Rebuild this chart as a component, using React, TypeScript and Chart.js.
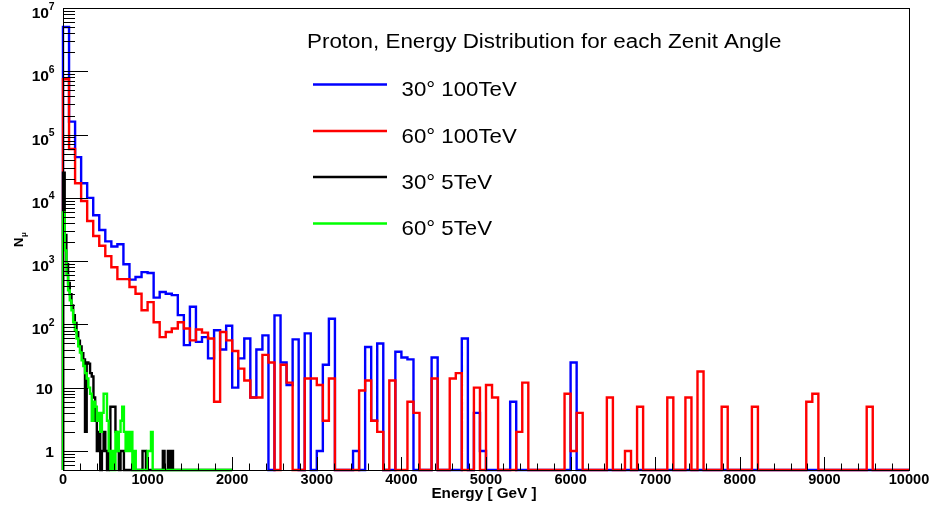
import { useEffect, useRef } from 'react';
import { Chart, registerables } from 'chart.js';

Chart.register(...registerables);

// ---------------- data ----------------
const HI_MAX = 10000; // 100 TeV histograms: 140 bins over 0..10000 GeV
const LO_MAX = 2000; // 5 TeV histograms: 100 bins over 0..2000 GeV
const Y_MIN = 0.5;
const Y_MAX = 1e7;

const seriesLabels = ['30\u00b0 100TeV', '60\u00b0 100TeV', '30\u00b0 5TeV', '60\u00b0 5TeV'];
const seriesColors = ['#0000ff', '#ff0000', '#000000', '#00ff00'];
const legendTitle = 'Proton, Energy Distribution for each Zenit Angle';
const xTitle = 'Energy [ GeV ]';

const blue100TeV = [
  5.0e6, 1.6e5, 4.4e4, 1.7e4, 1.0e4, 5.3e3, 3.1e3, 2.05e3, 1.7e3, 1.85e3,
  890, 510, 560, 670, 650, 265, 325, 305, 290, 140,
  47, 190, 53, 63, 29, 81, 40, 95, 10, 29,
  60, 7, 40, 67, 0, 139, 25, 11, 58, 0,
  72, 0, 1, 23, 123, 0, 0, 0, 1, 0,
  44, 3, 50, 0, 0, 37, 30, 28, 0, 0,
  0, 30, 0, 0, 0, 0, 60, 0, 4, 1,
  0, 0, 0, 0, 6, 0, 0, 0, 0, 0,
  0, 0, 0, 0, 25, 0, 0, 0, 0, 0,
  0, 0, 0, 0, 0, 0, 0, 0, 0, 0,
  0, 0, 0, 0, 0, 0, 0, 0, 0, 0,
  0, 0, 0, 0, 0, 0, 0, 0, 0, 0,
  0, 0, 0, 0, 0, 0, 0, 0, 0, 0,
  0, 0, 0, 0, 0, 0, 0, 0, 0, 0,
];

const red100TeV = [
  7.5e5, 5.9e4, 1.7e4, 8.9e3, 4.3e3, 2.5e3, 1.75e3, 1.2e3, 800, 520,
  520, 390, 305, 167, 225, 108, 63, 76, 86, 108,
  86, 56, 83, 74, 60, 6, 76, 56, 38, 20,
  13, 7, 7, 33, 25, 0, 23, 12, 0, 0,
  14, 14, 11, 3, 14, 0, 0, 0, 0, 9,
  13, 3, 2, 0, 13, 0, 0, 6, 4, 0,
  0, 14, 0, 0, 14, 17, 0, 0, 10, 0,
  11, 7, 0, 0, 0, 2, 12, 0, 0, 0,
  0, 0, 0, 8, 1, 4, 0, 0, 0, 0,
  7, 0, 0, 1, 0, 5, 0, 0, 0, 0,
  7, 0, 0, 7, 0, 18, 0, 0, 0, 5,
  0, 0, 0, 0, 5, 0, 0, 0, 0, 0,
  0, 0, 0, 6, 8, 0, 0, 0, 0, 0,
  0, 0, 0, 5, 0, 0, 0, 0, 0, 0,
];

const black5TeV = [
  25000, 2600, 900, 450, 300, 200, 140, 105, 75, 55,
  45, 35, 28, 2, 25, 24, 17, 15, 7, 3,
  1, 2, 0, 1, 2, 1, 0, 1, 5, 5,
  5, 2, 1, 0, 1, 1, 0, 0, 0, 0,
  0, 0, 0, 0, 0, 0, 0, 1, 1, 0,
  0, 0, 0, 0, 0, 0, 0, 0, 0, 1,
  0, 0, 1, 0, 1, 0, 0, 0, 0, 0,
  0, 0, 0, 0, 0, 0, 0, 0, 0, 0,
  0, 0, 0, 0, 0, 0, 0, 0, 0, 0,
  0, 0, 0, 0, 0, 0, 0, 0, 0, 0,
];

const green5TeV = [
  5900, 1480, 600, 345, 240, 167, 108, 81, 60, 45,
  36, 27, 22, 17, 14, 10, 8, 3, 6, 5,
  3, 4, 2, 4, 8, 8, 3, 1, 0, 1,
  0, 2, 1, 2, 3, 5, 2, 1, 2, 1,
  2, 0, 1, 0, 0, 0, 0, 0, 0, 0,
  1, 1, 2, 0, 0, 0, 0, 0, 0, 0,
  0, 0, 0, 0, 0, 0, 0, 0, 0, 0,
  0, 0, 0, 0, 0, 0, 0, 0, 0, 0,
  0, 0, 0, 0, 0, 0, 0, 0, 0, 0,
  0, 0, 0, 0, 0, 0, 0, 0, 0, 0,
];

const xTickLabels = ['0', '1000', '2000', '3000', '4000', '5000', '6000', '7000', '8000', '9000', '10000'];
const yDecadeExponents = [0, 1, 2, 3, 4, 5, 6, 7];

// ---------------- helpers ----------------
const FONT = '"Liberation Sans", Arial, Helvetica, sans-serif';

function histPoints(values: number[], max: number) {
  const w = max / values.length;
  const pts = [{ x: 0, y: Y_MIN }];
  values.forEach((v, i) => pts.push({ x: i * w, y: v > 0 ? v : Y_MIN }));
  pts.push({ x: max, y: Y_MIN });
  return pts;
}

function drawText(
  ctx: CanvasRenderingContext2D,
  s: string,
  x: number,
  y: number,
  font: string,
  align: 'left' | 'right' | 'center',
  sx = 1,
) {
  ctx.save();
  ctx.font = font;
  ctx.textBaseline = 'alphabetic';
  ctx.textAlign = 'left';
  const w = ctx.measureText(s).width * sx;
  const x0 = align === 'left' ? x : align === 'right' ? x - w : x - w / 2;
  ctx.translate(x0, y);
  ctx.scale(sx, 1);
  ctx.fillText(s, 0, 0);
  ctx.restore();
  return w;
}

const rootFrame = {
  id: 'rootFrame',
  afterDraw(chart: any) {
    const ctx: CanvasRenderingContext2D = chart.ctx;
    const { left, right, top, bottom } = chart.chartArea;
    const xs = chart.scales.x;
    const ys = chart.scales.y;
    ctx.save();
    ctx.fillStyle = '#000';
    ctx.strokeStyle = '#000';
    ctx.lineWidth = 1;
    // frame
    ctx.strokeRect(Math.round(left) + 0.5, Math.round(top) + 0.5, Math.round(right - left), Math.round(bottom - top));

    // x ticks
    ctx.beginPath();
    for (let v = 0; v <= HI_MAX; v += 200) {
      const px = Math.round(xs.getPixelForValue(v)) + 0.5;
      const len = v % 1000 === 0 ? 13 : 6.5;
      ctx.moveTo(px, bottom);
      ctx.lineTo(px, bottom - len);
    }
    // y ticks
    for (let k = -1; k <= 7; k++) {
      for (let m = 1; m <= 9; m++) {
        const v = m * Math.pow(10, k);
        if (v < Y_MIN - 1e-9 || v > Y_MAX + 1e-9) continue;
        const py = Math.round(ys.getPixelForValue(v)) + 0.5;
        const len = m === 1 ? 25 : 12;
        ctx.moveTo(left, py);
        ctx.lineTo(left + len, py);
      }
    }
    ctx.stroke();

    // x tick labels
    xTickLabels.forEach((lab) => {
      const px = xs.getPixelForValue(Number(lab));
      drawText(ctx, lab, px, bottom + 14, `bold 14px ${FONT}`, 'center', 1.04);
    });

    // y tick labels
    yDecadeExponents.forEach((k) => {
      const py = ys.getPixelForValue(Math.pow(10, k));
      if (k === 0) {
        drawText(ctx, '1', left - 9, py + 6, `bold 15px ${FONT}`, 'right', 1.04);
      } else if (k === 1) {
        drawText(ctx, '10', left - 10, py + 6, `bold 15px ${FONT}`, 'right', 1.04);
      } else {
        drawText(ctx, String(k), left - 8.5, py + 1.5, `bold 10px ${FONT}`, 'right', 1.04);
        drawText(ctx, '10', left - 14, py + 10, `bold 15px ${FONT}`, 'right', 1.04);
      }
    });

    // x axis title
    drawText(ctx, xTitle, (left + right) / 2 - 2, bottom + 27.5, `bold 14px ${FONT}`, 'center', 1.09);

    // y axis title N_mu (rotated)
    ctx.save();
    ctx.translate(23.3, 247);
    ctx.rotate(-Math.PI / 2);
    ctx.font = `bold 13px ${FONT}`;
    ctx.textBaseline = 'alphabetic';
    ctx.fillText('N', 0, 0);
    const nw = ctx.measureText('N').width;
    ctx.font = `bold 8px ${FONT}`;
    ctx.fillText('\u03bc', nw + 0.5, 3);
    ctx.restore();

    // legend
    drawText(ctx, legendTitle, 307, 48.3, `20px ${FONT}`, 'left', 1.12);
    const rows = [84.5, 131, 177, 223.5];
    rows.forEach((ry, i) => {
      ctx.strokeStyle = seriesColors[i];
      ctx.lineWidth = 2.5;
      ctx.beginPath();
      ctx.moveTo(313, ry);
      ctx.lineTo(387, ry);
      ctx.stroke();
      ctx.fillStyle = '#000';
      drawText(ctx, seriesLabels[i], 401.5, ry + 11.5, `21px ${FONT}`, 'left', 1.06);
    });
    ctx.restore();
  },
};

export default function App() {
  const ref = useRef<HTMLCanvasElement | null>(null);
  useEffect(() => {
    document.body.style.margin = '0';
    const canvas = ref.current;
    if (!canvas) return;
    const series = [
      { values: blue100TeV, max: HI_MAX, order: 4 },
      { values: red100TeV, max: HI_MAX, order: 3 },
      { values: black5TeV, max: LO_MAX, order: 2 },
      { values: green5TeV, max: LO_MAX, order: 1 },
    ];
    const chart = new Chart(canvas, {
      type: 'line',
      data: {
        datasets: series.map((s, i) => ({
          label: seriesLabels[i],
          data: histPoints(s.values, s.max),
          borderColor: seriesColors[i],
          backgroundColor: seriesColors[i],
          borderWidth: 2.4,
          stepped: true,
          fill: false,
          pointRadius: 0,
          tension: 0,
          clip: false as any,
          order: s.order,
        })),
      },
      options: {
        animation: false,
        responsive: false,
        devicePixelRatio: 1,
        layout: { padding: { left: 63, right: 24, top: 8, bottom: 35 } },
        plugins: {
          legend: { display: false },
          tooltip: { enabled: false },
        },
        scales: {
          x: { type: 'linear', min: 0, max: HI_MAX, display: false },
          y: { type: 'logarithmic', min: Y_MIN, max: Y_MAX, display: false },
        },
      },
      plugins: [rootFrame],
    });
    return () => chart.destroy();
  }, []);
  return (
    <div style={{ width: 933, height: 505, background: '#fff' }}>
      <canvas ref={ref} width={933} height={505} style={{ display: 'block' }} />
    </div>
  );
}
